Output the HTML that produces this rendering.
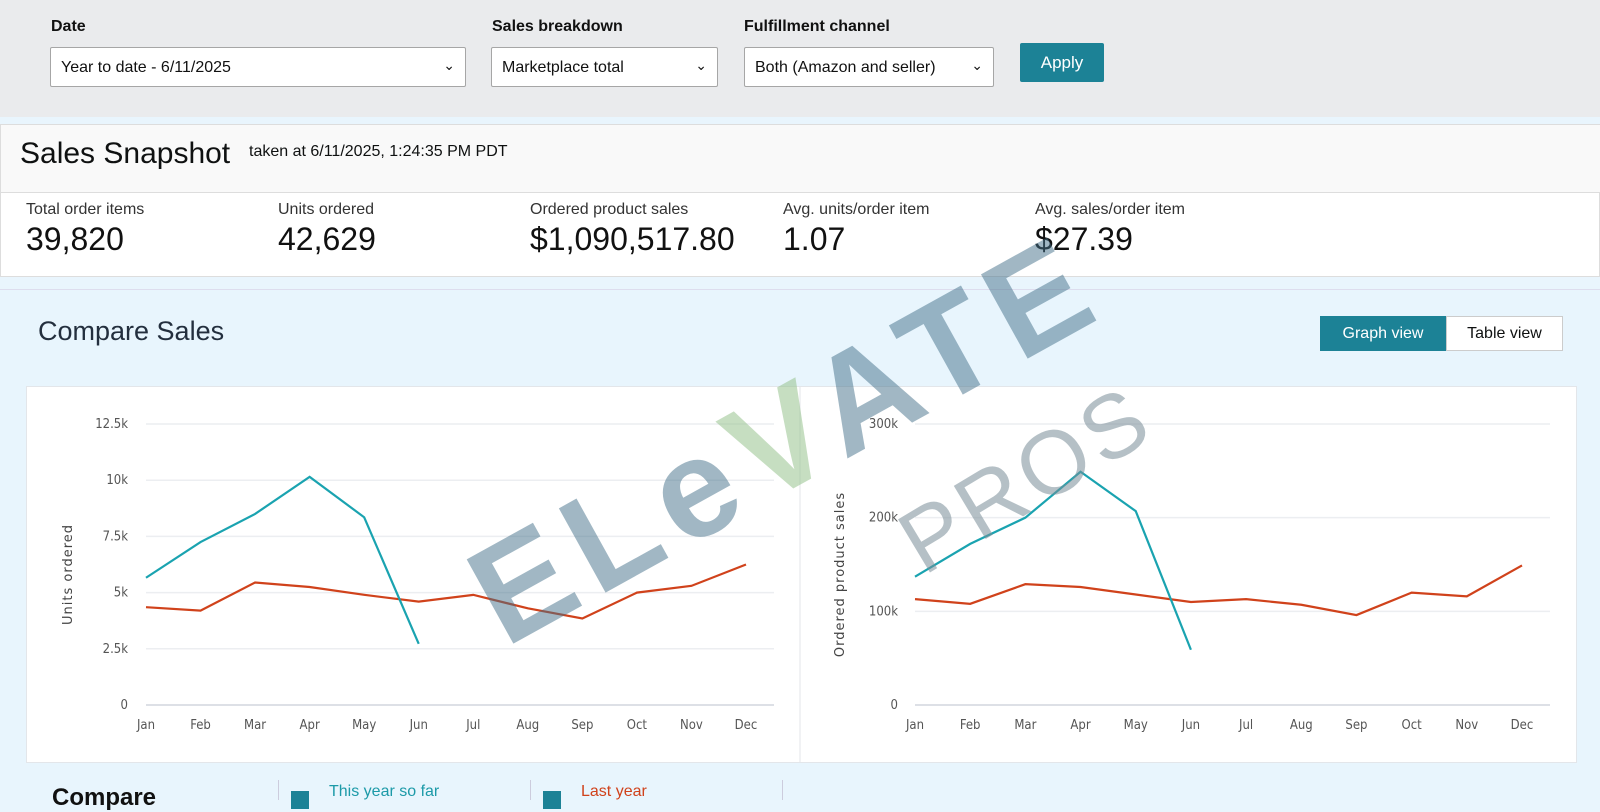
<!DOCTYPE html>
<html><head><meta charset="utf-8">
<style>
*{box-sizing:border-box;margin:0;padding:0}
body{width:1600px;height:800px;overflow:hidden;background:#e9f5fd;font-family:"Liberation Sans",sans-serif;color:#0f1111;position:relative}
.topbar{position:absolute;left:0;top:0;width:1600px;height:117px;background:#eaebed}
.lbl{position:absolute;top:18px;font-size:16px;font-weight:bold;color:#111}
.sel{position:absolute;top:47px;height:40px;background:#fff;border:1px solid #a6a6a6;border-radius:2px;font-size:16px;padding:11px 10px;color:#111}
.sel .chev{position:absolute;right:10px;top:9px;font-size:14px}
.apply{position:absolute;left:1020px;top:43px;width:84px;height:39px;background:#1c8296;color:#fff;font-size:17px;text-align:center;line-height:39px;border-radius:2px}
.snap{position:absolute;left:0;top:124px;width:1600px;height:153px;background:#fff;border:1px solid #ddd}
.snaphead{position:absolute;left:0;top:0;width:1600px;height:68px;background:#f9f9f9;border-bottom:1px solid #ddd}
.metric{position:absolute;top:201px}
.metric .t{font-size:16px;color:#333}
.metric .v{font-size:32px;color:#111;margin-top:2px}
.cmp{position:absolute;left:0;top:289px;width:1600px;height:511px;background:#e8f5fd;border-top:1px solid #dde}
</style></head><body>
<div class="topbar">
<div class="lbl" style="left:51px">Date</div>
<div class="lbl" style="left:492px">Sales breakdown</div>
<div class="lbl" style="left:744px">Fulfillment channel</div>
<div class="sel" style="left:50px;width:416px">Year to date - 6/11/2025<span class="chev">&#8964;</span></div>
<div class="sel" style="left:491px;width:227px">Marketplace total<span class="chev">&#8964;</span></div>
<div class="sel" style="left:744px;width:250px">Both (Amazon and seller)<span class="chev">&#8964;</span></div>
<div class="apply">Apply</div>
</div>
<div class="snap">
<div class="snaphead">
<span style="position:absolute;left:19px;top:12px;font-size:30px">Sales Snapshot</span>
<span style="position:absolute;left:248px;top:18px;font-size:16px">taken at 6/11/2025, 1:24:35 PM PDT</span>
</div></div>
<div class="metric" style="left:26px"><div class="t">Total order items</div><div class="v">39,820</div></div>
<div class="metric" style="left:278px"><div class="t">Units ordered</div><div class="v">42,629</div></div>
<div class="metric" style="left:530px"><div class="t">Ordered product sales</div><div class="v">$1,090,517.80</div></div>
<div class="metric" style="left:783px"><div class="t">Avg. units/order item</div><div class="v">1.07</div></div>
<div class="metric" style="left:1035px"><div class="t">Avg. sales/order item</div><div class="v">$27.39</div></div>
<div class="cmp"></div>
<div style="position:absolute;left:38px;top:316px;font-size:27px;color:#232f3e">Compare Sales</div>
<div style="position:absolute;left:1320px;top:316px;width:126px;height:35px;background:#1c8296;color:#fff;font-size:16px;text-align:center;line-height:35px">Graph view</div>
<div style="position:absolute;left:1446px;top:316px;width:117px;height:35px;background:#fff;border:1px solid #ccc;font-size:16px;text-align:center;line-height:33px">Table view</div>
<div style="position:absolute;left:26px;top:386px;width:1551px;height:377px;background:#fff;border:1px solid #e3e6ea"></div>
<svg id="ch" width="1600" height="800" style="position:absolute;left:0;top:0"></svg>
<div style="position:absolute;left:52px;top:784px;font-size:24px;font-weight:bold;color:#111">Compare</div>
<div style="position:absolute;left:278px;top:780px;width:1px;height:20px;background:#ccd"></div>
<div style="position:absolute;left:291px;top:791px;width:18px;height:18px;background:#1c8296"></div>
<div style="position:absolute;left:329px;top:783px;font-size:16px;color:#1c9aa8">This year so far</div>
<div style="position:absolute;left:530px;top:780px;width:1px;height:20px;background:#ccd"></div>
<div style="position:absolute;left:543px;top:791px;width:18px;height:18px;background:#1c8296"></div>
<div style="position:absolute;left:581px;top:783px;font-size:16px;color:#d0421b">Last year</div>
<div style="position:absolute;left:782px;top:780px;width:1px;height:20px;background:#ccd"></div>
<div style="position:absolute;left:448px;top:545px;font-size:140px;line-height:1;font-weight:bold;color:#45718a;opacity:.5;transform:rotate(-29deg);transform-origin:0 0;white-space:nowrap;pointer-events:none;letter-spacing:12px">ELe<span style="color:#8fbf85">V</span>ATE</div>
<div style="position:absolute;left:885px;top:512px;font-size:90px;line-height:1;color:#7a8e98;opacity:.55;transform:rotate(-31deg);transform-origin:0 0;white-space:nowrap;pointer-events:none;letter-spacing:5px">PROS</div>
<script>
const months=["Jan","Feb","Mar","Apr","May","Jun","Jul","Aug","Sep","Oct","Nov","Dec"];
const unitsThisYear=[5.66,7.25,8.5,10.15,8.35,2.72];
const unitsLastYear=[4.35,4.2,5.45,5.25,4.9,4.6,4.9,4.3,3.85,5.0,5.3,6.25];
const unitsTicks=[0,2.5,5,7.5,10,12.5];
const unitsTickLabels=["0","2.5k","5k","7.5k","10k","12.5k"];
const salesThisYear=[137,172,200,249,207,59];
const salesLastYear=[113,108,129,126,118,110,113,107,96,120,116,149];
const salesTicks=[0,100,200,300];
const salesTickLabels=["0","100k","200k","300k"];
const svg=document.getElementById('ch');
const NS="http://www.w3.org/2000/svg";
function mk(t,a,name){const e=document.createElementNS(NS,t);for(const k in a)e.setAttribute(k,a[k]);


svg.appendChild(e);return e;}
function chart(o){
 const x=i=>o.x0+(o.x1-o.x0)*i/11;
 const y=v=>o.y0-(o.y0-o.y1)*v/o.max;
 o.ticks.forEach((t,i)=>{
  mk('line',{x1:o.gx0,x2:o.gx1,y1:y(t),y2:y(t),stroke:i==0?'#dde0e6':'#eceef1','stroke-width':i==0?2:1.5},'gridline');
  const tx=mk('text',{x:o.lx,y:y(t)+4,'text-anchor':'end','font-size':13,fill:'#555','font-family':'DejaVu Sans Condensed, Liberation Sans, sans-serif'},'y-tick-label');tx.textContent=o.labels[i];
 });
 months.forEach((m,i)=>{const tx=mk('text',{x:x(i),y:o.y0+24,'text-anchor':'middle','font-size':13,fill:'#555','font-family':'DejaVu Sans Condensed, Liberation Sans, sans-serif'},'x-tick-label');tx.textContent=m;});
 const t=mk('text',{x:0,y:0,transform:`translate(${o.tx},${(o.y0+o.y1)/2+10}) rotate(-90)`,'text-anchor':'middle','font-size':13,fill:'#444','letter-spacing':'1','font-family':'DejaVu Sans, sans-serif'},'y-axis-title');t.textContent=o.title;
 mk('polyline',{points:o.last.map((v,i)=>x(i)+','+y(v)).join(' '),fill:'none',stroke:'#d0421b','stroke-width':2.2},'last-year-line');
 mk('polyline',{points:o.cur.map((v,i)=>x(i)+','+y(v)).join(' '),fill:'none',stroke:'#1aa3b0','stroke-width':2.2},'this-year-line');
}
mk('line',{x1:800,x2:800,y1:387,y2:762,stroke:'#e3e6ea'},'chart-divider');
chart({x0:146,x1:746,y0:705,y1:424,max:12.5,gx0:146,gx1:774,lx:128,tx:72,ticks:unitsTicks,labels:unitsTickLabels,cur:unitsThisYear,last:unitsLastYear,title:'Units ordered'});
chart({x0:915,x1:1522,y0:705,y1:424,max:300,gx0:915,gx1:1550,lx:898,tx:844,ticks:salesTicks,labels:salesTickLabels,cur:salesThisYear,last:salesLastYear,title:'Ordered product sales'});
</script>
</body></html>
